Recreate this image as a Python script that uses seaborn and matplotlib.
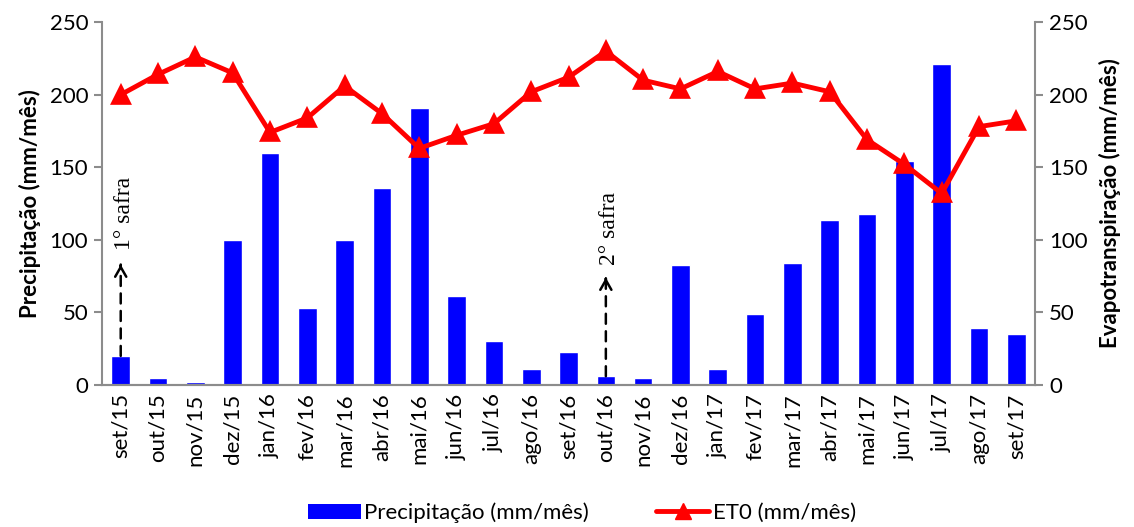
import matplotlib
matplotlib.use("Agg")
import matplotlib.pyplot as plt
import seaborn as sns
import pandas as pd
from matplotlib.patches import Patch
from matplotlib.lines import Line2D

months = ["set/15", "out/15", "nov/15", "dez/15", "jan/16", "fev/16", "mar/16", "abr/16",
          "mai/16", "jun/16", "jul/16", "ago/16", "set/16", "out/16", "nov/16", "dez/16",
          "jan/17", "fev/17", "mar/17", "abr/17", "mai/17", "jun/17", "jul/17", "ago/17", "set/17"]
precip = [20, 5, 2, 100, 160, 53, 100, 136, 191, 61, 30, 11, 23, 6, 5, 83,
          11, 49, 84, 114, 118, 154, 221, 39, 35]
et0 = [200, 214, 226, 215, 174, 184, 206, 187, 163, 172, 180, 202, 212, 230, 210, 204,
       216, 204, 208, 202, 169, 152, 132, 178, 182]
yticks = [0, 50, 100, 150, 200, 250]
safras = [("set/15", "1° safra", 83, 93), ("out/16", "2° safra", 74, 83)]

sns.set_style("white")
plt.rcParams["font.family"] = ["Lato", "DejaVu Sans"]
for k in ("text.color", "axes.labelcolor", "xtick.color", "ytick.color"):
    plt.rcParams[k] = "black"

df = pd.DataFrame({"mes": months, "precip": precip, "et0": et0})

fig = plt.figure(figsize=(11.34, 5.27), dpi=100)
ax = fig.add_axes([0.09, 0.2695, 0.8227, 0.6885])
sns.barplot(data=df, x="mes", y="precip", color="#0000FF", saturation=1, width=0.5, ax=ax)
ax2 = ax.twinx()
sns.pointplot(data=df, x="mes", y="et0", color="#FF0000", markers="^", linestyles="-",
              linewidth=3.5, markersize=12, ax=ax2)

gray = "#8c8c8c"
for a in (ax, ax2):
    a.set_ylim(0, 250)
    a.set_yticks(yticks)
    a.set_xlim(-0.5, len(months) - 0.5)
    for s in a.spines.values():
        s.set_color(gray)
        s.set_linewidth(1.5)
    a.spines["top"].set_visible(False)
    a.tick_params(axis="y", length=6, width=1.5, color=gray, labelcolor="black",
                  labelsize=16, pad=4)
ax2.spines["left"].set_visible(False)
ax.spines["right"].set_visible(False)

ax.set_xticks(range(len(months)))
ax.set_xticklabels(months, rotation=90, fontsize=16)
ax.set_xticks([i - 0.5 for i in range(len(months) + 1)], minor=True)
ax.tick_params(axis="x", which="major", length=0, pad=6, labelcolor="black")
ax.tick_params(axis="x", which="minor", length=7, width=1.5, color=gray, direction="out")
ax.tick_params(axis="y", direction="out", left=True)
ax2.tick_params(axis="y", direction="out", right=True)

ax.set_xlabel("")
ax.set_ylabel("Precipitação (mm/mês)", fontsize=16, fontweight="bold", labelpad=6)
ax2.set_ylabel("Evapotranspiração (mm/mês)", fontsize=16, fontweight="bold", labelpad=8)

idx = {m: i for i, m in enumerate(months)}
for mes, label, ytip, ytext in safras:
    i = idx[mes]
    ax.annotate("", xy=(i, ytip), xytext=(i, precip[i]),
                arrowprops=dict(arrowstyle="-", linestyle=(0, (4, 3)), color="black", lw=1.8,
                                shrinkA=0, shrinkB=0), zorder=5)
    ax.annotate("", xy=(i, ytip), xytext=(i, ytip - 1),
                arrowprops=dict(arrowstyle="->,head_length=0.7,head_width=0.4", color="black",
                                lw=1.8, shrinkA=0, shrinkB=0), zorder=5)
    ax.text(i + 0.1, ytext, label, rotation=90, ha="center", va="bottom",
            fontsize=17, family=["Liberation Serif", "DejaVu Serif"])

handles = [Patch(facecolor="#0000FF", edgecolor="none"),
           Line2D([], [], color="#FF0000", lw=3.5, marker="^", markersize=12)]
fig.legend(handles, ["Precipitação (mm/mês)", "ET0 (mm/mês)"], loc="center",
           bbox_to_anchor=(0.513, 0.027), ncol=2, frameon=False, fontsize=16,
           handlelength=2.4, columnspacing=3.0, handletextpad=0.15)

fig.savefig("out.png", dpi=100)
